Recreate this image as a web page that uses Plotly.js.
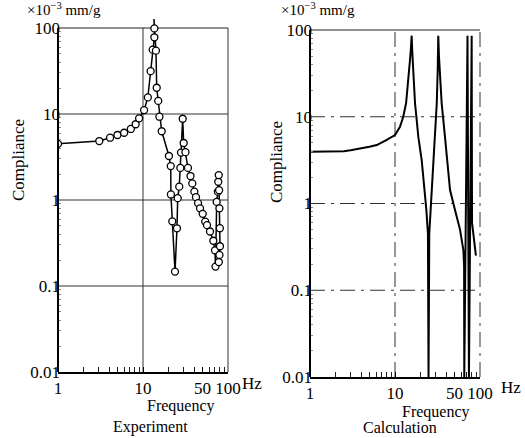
<!DOCTYPE html>
<html><head><meta charset="utf-8">
<script src="https://cdn.plot.ly/plotly-3.0.1.min.js"></script>
<style>html,body{margin:0;padding:0;background:#fff;} #chart{width:525px;height:438px;}</style>
</head><body><div id="chart"></div>
<script>
// Experiment (measured points), Hz and compliance (x10^-3 mm/g)
const expFreq = [1.0, 3.06, 4.1, 5.0, 6.0, 7.2, 8.2, 9.0, 10.3, 11.4, 12.3, 13.0, 13.6, 13.6, 13.45,
  14.2, 14.5, 15.1, 15.6, 16.6, 20.2, 21.2, 21.3, 22.1, 23.8, 25.1, 25.6, 26.7, 27.5, 28.0, 29.3,
  30.1, 31.6, 33.8, 36.2, 38.0, 40.2, 42.0, 44.4, 46.9, 50.4, 54.0, 56.6, 61.4, 67.2, 70.3, 71.3,
  73.6, 76.0, 76.8, 77.8, 78.6, 79.3, 80.2, 80.5, 79.3, 78.0];
const expComp = [4.5, 4.85, 5.3, 5.7, 6.05, 6.7, 7.6, 8.9, 11.1, 15.6, 31.5, 56, 78, 99, 127,
  54.5, 20.2, 14.2, 9.3, 6.3, 3.25, 2.48, 1.16, 0.565, 0.147, 0.469, 1.05, 1.43, 2.36, 3.56, 8.8,
  4.6, 3.6, 2.36, 1.9, 1.56, 1.25, 1.08, 0.92, 0.80, 0.69, 0.56, 0.51, 0.43, 0.336, 0.26, 0.168,
  0.95, 1.25, 1.63, 1.95, 1.3, 0.8, 0.47, 0.29, 0.23, 0.19];

// Calculation (continuous curve)
const calcFreq = [1.0, 1.5, 2.0, 2.5, 3.0, 4.2, 5.0, 6.1, 7.0, 8.0, 9.0, 10.0, 11.45, 12.5, 13.5,
  14.3, 15.0, 15.4, 15.7, 16.0, 16.4, 17.2, 18.0, 18.8, 20.6, 22.1, 23.4, 24.4, 24.8, 25.3, 26.5,
  28.2, 29.6, 31.0, 31.8, 32.3, 32.9, 33.8, 35.4, 38.7, 42.4, 44.4, 50.8, 58.2, 63.7, 65.0, 65.3,
  71.3, 74.1, 79.8, 80.6, 84.0, 89.5];
const calcComp = [3.95, 3.95, 3.95, 4.0, 4.1, 4.33, 4.5, 4.72, 5.0, 5.4, 5.8, 6.16, 7.67, 10.0, 14.3,
  24.3, 45, 62, 86, 54, 34.6, 14.3, 9.2, 5.9, 3.17, 1.56, 0.84, 0.45, 0.01, 0.45, 1.0,
  2.43, 5.9, 14.3, 34.6, 86, 50, 34.6, 14.3, 5.9, 2.43, 1.43, 0.84, 0.5, 0.29, 0.19, 0.01,
  86, 0.01, 86, 0.6, 0.4, 0.25];

const xTickVals = [1, 10, 50, 100];
const xTickText = ['1', '10', '50', '100'];
const yTickVals = [0.01, 0.1, 1, 10, 100];
const yTickText = ['0.01', '0.1', '1', '10', '100'];
const xMinorVals = [2, 3, 4, 5, 6, 7, 8, 9, 20, 30, 40, 60, 70, 80, 90];
const gridX = [10];
const gridY = [0.1, 1, 10];

const yMinorVals = [];
[0.01, 0.1, 1, 10].forEach(d => { for (let k = 2; k <= 9; k++) yMinorVals.push(+(d * k).toPrecision(3)); });

const FONT = 'Liberation Serif';
const W = 525, H = 438;
const L = {x: [58 / W, 228 / W], y: [1 - 372 / H, 1 - 17.68 / H], yr: [-2, 2.12]};
const R = {x: [310 / W, 480 / W], y: [1 - 377 / H, 1 - 30 / H], yr: [-2, 2]};

function xAxis(dom, anchor) {
  return {type: 'log', domain: dom, range: [0, 2], anchor: anchor,
    tickmode: 'array', tickvals: xTickVals, ticktext: xTickText, tickangle: 0,
    ticks: 'inside', ticklen: 5, tickcolor: '#000', tickwidth: 1,
    showgrid: false, zeroline: false, showline: true, linewidth: 2, linecolor: '#000',
    tickfont: {family: FONT, size: 17, color: '#000'},
    minor: {tickmode: 'array', tickvals: xMinorVals, ticks: 'inside', ticklen: 5, tickwidth: 1, tickcolor: '#222', showgrid: false},
    fixedrange: true};
}
function yAxis(dom, rng, anchor) {
  return {type: 'log', domain: dom, range: rng, anchor: anchor,
    tickmode: 'array', tickvals: yTickVals, ticktext: yTickText,
    ticks: '', showgrid: false, zeroline: false, showline: false,
    tickfont: {family: FONT, size: 17, color: '#000'}, ticklabelstandoff: -3,
    minor: {tickmode: 'array', tickvals: yMinorVals, ticks: 'inside', ticklen: 3, tickwidth: 1, tickcolor: '#888', showgrid: false},
    fixedrange: true};
}

const shapes = [];
function frac(v, r) { return (Math.log10(v) - r[0]) / (r[1] - r[0]); }
function addFrame(xa, ya, yr, dash, color) {
  const top = frac(100, yr);
  gridY.forEach(v => shapes.push({type: 'line', layer: 'below', xref: xa + ' domain', yref: ya + ' domain',
    x0: 0, x1: 1, y0: frac(v, yr), y1: frac(v, yr), line: {color: color, width: 1, dash: dash}}));
  gridX.forEach(v => shapes.push({type: 'line', layer: 'below', xref: xa + ' domain', yref: ya + ' domain',
    x0: frac(v, [0, 2]), x1: frac(v, [0, 2]), y0: 0, y1: top, line: {color: color, width: 1, dash: dash}}));
  shapes.push({type: 'line', layer: 'below', xref: xa + ' domain', yref: ya + ' domain',
    x0: 0, x1: 1, y0: top, y1: top, line: {color: '#222', width: 1}});
  shapes.push({type: 'line', layer: 'below', xref: xa + ' domain', yref: ya + ' domain',
    x0: 1, x1: 1, y0: 0, y1: top, line: {color: color, width: 1, dash: dash}});
  shapes.push({type: 'line', layer: 'above', xref: xa + ' domain', yref: ya + ' domain',
    x0: 0, x1: 0, y0: 0, y1: top, line: {color: '#000', width: 2}});
}
addFrame('x', 'y', L.yr, 'solid', '#333');
addFrame('x2', 'y2', R.yr, 'longdashdot', '#333');

const traces = [
  {x: expFreq, y: expComp, xaxis: 'x', yaxis: 'y', type: 'scatter', mode: 'lines',
    line: {color: '#000', width: 1.5}, hoverinfo: 'skip', showlegend: false},
  {x: expFreq, y: expComp.map(v => v > 100 ? null : v), xaxis: 'x', yaxis: 'y', type: 'scatter', mode: 'markers',
    marker: {symbol: 'circle', size: 7, color: '#fff', line: {color: '#000', width: 1.3}}, showlegend: false},
  {x: calcFreq, y: calcComp, xaxis: 'x2', yaxis: 'y2', type: 'scatter', mode: 'lines',
    line: {color: '#000', width: 2}, showlegend: false}
];

function ann(text, px, py, opts) {
  return Object.assign({text: text, x: px / W, y: 1 - py / H, xref: 'paper', yref: 'paper',
    showarrow: false, xanchor: 'center', yanchor: 'middle',
    font: {family: FONT, size: 17, color: '#000'}}, opts || {});
}
const annotations = [
  ann('×10<sup>−3</sup> mm/g', 25, 9, {xanchor: 'left', font: {family: FONT, size: 15, color: '#000'}}),
  ann('Compliance', 18, 160, {textangle: -90}),
  ann('Frequency', 181, 406, {font: {family: FONT, size: 16, color: '#000'}}),
  ann('Experiment', 150, 427, {font: {family: FONT, size: 16, color: '#000'}}),
  ann('Hz', 240, 383, {xanchor: 'left'}),
  ann('×10<sup>−3</sup> mm/g', 279, 9, {xanchor: 'left', font: {family: FONT, size: 15, color: '#000'}}),
  ann('Compliance', 277, 162, {textangle: -90}),
  ann('Frequency', 436, 412, {font: {family: FONT, size: 16, color: '#000'}}),
  ann('Calculation', 400, 427, {font: {family: FONT, size: 16, color: '#000'}}),
  ann('Hz', 499, 387, {xanchor: 'left'})
];

const layout = {
  width: W, height: H, margin: {l: 0, r: 0, t: 0, b: 0},
  paper_bgcolor: '#fff', plot_bgcolor: '#fff',
  font: {family: FONT, color: '#000'},
  showlegend: false,
  xaxis: xAxis(L.x, 'y'), yaxis: yAxis(L.y, L.yr, 'x'),
  xaxis2: xAxis(R.x, 'y2'), yaxis2: yAxis(R.y, R.yr, 'x2'),
  shapes: shapes, annotations: annotations
};
Plotly.newPlot('chart', traces, layout, {displayModeBar: false, staticPlot: true});
</script></body></html>
